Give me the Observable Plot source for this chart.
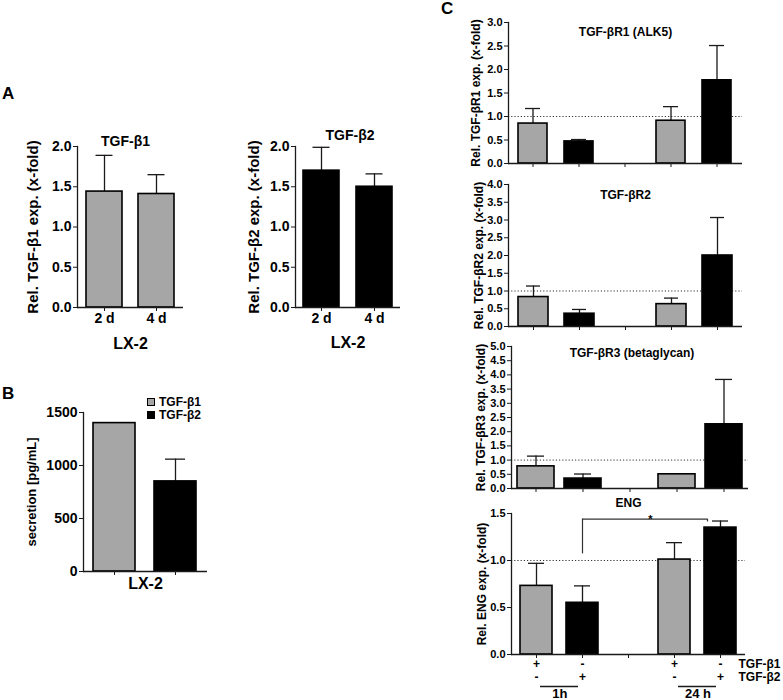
<!DOCTYPE html>
<html><head><meta charset="utf-8">
<script src="https://cdn.jsdelivr.net/npm/d3@7"></script>
<script src="https://cdn.jsdelivr.net/npm/@observablehq/plot@0.6"></script>
<style>
body{margin:0;background:#fff;}
#root{position:relative;width:783px;height:700px;overflow:hidden;background:#fff;font-family:"Liberation Sans",Arial,Helvetica,sans-serif;font-weight:bold;color:#000;}
#root svg{position:absolute;overflow:visible;background:transparent;}
.letter{position:absolute;font-size:17px;line-height:17px;font-weight:bold;}
.leg{position:absolute;font-size:12px;line-height:13px;font-weight:bold;}
.leg .sw{display:inline-block;width:6px;height:6px;border:1px solid #000;margin-right:4px;vertical-align:0px;}
</style></head><body><div id="root"></div>
<script>
// ---------- data ----------
const aDays = ["2 d", "4 d"];
const aTicks = [0, 0.5, 1.0, 1.5, 2.0];
const tgfb1Mean = [1.44, 1.41];
const tgfb1Sem = [0.45, 0.24];
const tgfb2Mean = [1.70, 1.50];
const tgfb2Sem = [0.29, 0.16];

const bLigands = ["TGF-β1", "TGF-β2"];
const bTicks = [0, 500, 1000, 1500];
const secretionMean = [1400, 850];
const secretionSem = [null, 210];

const cCats = ["TGF-β1 1h", "TGF-β2 1h", "gap", "TGF-β1 24h", "TGF-β2 24h"];
const cLigand = ["TGF-β1", "TGF-β2", null, "TGF-β1", "TGF-β2"];
const r1Ticks = [0, 0.5, 1.0, 1.5, 2.0, 2.5, 3.0];
const r1Mean = [0.85, 0.47, null, 0.91, 1.77];
const r1Sem = [0.32, 0.04, null, 0.30, 0.74];
const r2Ticks = [0, 0.5, 1.0, 1.5, 2.0, 2.5, 3.0, 3.5, 4.0];
const r2Mean = [0.83, 0.36, null, 0.63, 2.0];
const r2Sem = [0.31, 0.12, null, 0.17, 1.07];
const r3Ticks = [0, 0.5, 1.0, 1.5, 2.0, 2.5, 3.0, 3.5, 4.0, 4.5, 5.0];
const r3Mean = [0.78, 0.35, null, 0.50, 2.26];
const r3Sem = [0.36, 0.16, null, 0, 1.58];
const engTicks = [0, 0.5, 1.0, 1.5];
const engMean = [0.73, 0.55, null, 1.01, 1.35];
const engSem = [0.24, 0.18, null, 0.18, 0.07];
const engBracket = {from: "TGF-β2 1h", to: "TGF-β2 24h", mid: "gap", low: 1.07, high: 1.44, label: "*"};

const treatRows = ["TGF-β1", "TGF-β2"];
const tgfb1Added = ["+", "-", null, "+", "-"];
const tgfb2Added = ["-", "+", null, "-", "+"];
const timeGroups = [{label: "1h", from: "TGF-β1 1h", to: "TGF-β2 1h"}, {label: "24 h", from: "TGF-β1 24h", to: "TGF-β2 24h"}];

// ---------- drawing ----------
const FONT = '"Liberation Sans", Arial, Helvetica, sans-serif';
const GREY = "#a6a6a6";
const INK = "#1a1a1a";
const root = document.getElementById("root");

function place(svg, left, top) {
  svg.style.left = left + "px";
  svg.style.top = top + "px";
  root.appendChild(svg);
}

function barPanel(c) {
  const data = c.cats.map((k, i) => ({cat: k, mean: c.mean[i], sem: c.sem[i], lig: c.lig[i]})).filter(d => d.mean != null);
  const err = data.filter(d => d.sem != null && d.sem > 0);
  const marks = [];
  if (c.refLine) marks.push(Plot.ruleY([1], {stroke: "#333", strokeWidth: 1, strokeDasharray: "1.2 2"}));
  marks.push(
    Plot.ruleX(err, {x: "cat", y1: "mean", y2: d => d.mean + d.sem, stroke: INK, strokeWidth: 1.3}),
    Plot.tickY(err, {x: "cat", y: d => d.mean + d.sem, stroke: INK, strokeWidth: 1.3, insetLeft: c.capInset, insetRight: c.capInset}),
    Plot.barY(data, {x: "cat", y: "mean", fill: "lig", stroke: "#000", strokeWidth: 1.6}),
    Plot.ruleY([0], {stroke: INK, strokeWidth: 1.3}),
    Plot.frame({anchor: "left", stroke: INK, strokeWidth: 1.3}),
    Plot.axisY(c.ticks, {tickSize: 4, tickPadding: 2, tickFormat: c.fmt, fontSize: c.tickFont, label: null, stroke: INK}),
    Plot.axisX({tickSize: 4, tickPadding: 2, tickFormat: c.xFmt || (() => ""), fontSize: c.xFont || c.tickFont, label: null, stroke: INK}),
    Plot.text([c.yLabel], {frameAnchor: "left", textAnchor: "middle", lineAnchor: "middle", rotate: -90, dx: c.yLabelDx, fontSize: c.yLabelFont}),
  );
  if (c.title) marks.push(Plot.text([c.title], {frameAnchor: "top", lineAnchor: "middle", dx: c.titleDx || 0, dy: c.titleDy, fontSize: c.titleFont}));
  if (c.xLabel) marks.push(Plot.text([c.xLabel], {frameAnchor: "bottom", lineAnchor: "middle", dy: c.xLabelDy, fontSize: c.xLabelFont}));
  if (c.extra) marks.push(...c.extra);
  return Plot.plot({
    width: c.width, height: c.height,
    marginLeft: c.mL, marginRight: c.mR, marginTop: c.mT, marginBottom: c.mB,
    x: {domain: c.cats, paddingInner: c.pi, paddingOuter: c.po, axis: null},
    y: {domain: c.yDomain, axis: null},
    color: {domain: ["TGF-β1", "TGF-β2"], range: [GREY, "#000"]},
    style: {fontFamily: FONT, fontWeight: "bold", color: "#000", background: "transparent", overflow: "visible"},
    marks
  });
}

const f1 = d3.format(".1f");

// Panel A1
place(barPanel({
  cats: aDays, mean: tgfb1Mean, sem: tgfb1Sem, lig: ["TGF-β1", "TGF-β1"],
  width: 200, height: 260, mL: 77, mR: 17, mT: 46, mB: 53, pi: 0.31, po: 0.173,
  yDomain: [0, 2], ticks: aTicks, fmt: f1, tickFont: 14, xFmt: d => d, xFont: 14, capInset: 9.5,
  yLabel: "Rel. TGF-β1 exp. (x-fold)", yLabelDx: -44, yLabelFont: 15,
  title: "TGF-β1", titleDx: -5, titleDy: -5, titleFont: 14,
  xLabel: "LX-2", xLabelDy: 36, xLabelFont: 16
}), 0, 100);

// Panel A2
place(barPanel({
  cats: aDays, mean: tgfb2Mean, sem: tgfb2Sem, lig: ["TGF-β2", "TGF-β2"],
  width: 200, height: 260, mL: 75, mR: 20, mT: 46, mB: 53, pi: 0.32, po: 0.15,
  yDomain: [0, 2], ticks: aTicks, fmt: f1, tickFont: 14, xFmt: d => d, xFont: 14, capInset: 9.5,
  yLabel: "Rel. TGF-β2 exp. (x-fold)", yLabelDx: -41, yLabelFont: 15,
  title: "TGF-β2", titleDx: 2, titleDy: -11, titleFont: 14,
  xLabel: "LX-2", xLabelDy: 35, xLabelFont: 16
}), 220, 100);

// Panel B
place(barPanel({
  cats: bLigands, mean: secretionMean, sem: secretionSem, lig: bLigands,
  width: 230, height: 230, mL: 83, mR: 23, mT: 32, mB: 39, pi: 0.31, po: 0.17,
  yDomain: [0, 1500], ticks: bTicks, fmt: d3.format("d"), tickFont: 14, capInset: 11,
  yLabel: "secretion [pg/mL]", yLabelDx: -52, yLabelFont: 13,
  xLabel: "LX-2", xLabelDy: 12, xLabelFont: 16
}), 0, 380);

// Panel C1
place(barPanel({
  cats: cCats, mean: r1Mean, sem: r1Sem, lig: cLigand, refLine: true,
  width: 360, height: 175, mL: 108, mR: 18, mT: 22, mB: 12, pi: 0.36, po: 0.17,
  yDomain: [0, 3], ticks: r1Ticks, fmt: f1, tickFont: 11, capInset: 7,
  yLabel: "Rel. TGF-βR1 exp. (x-fold)", yLabelDx: -32, yLabelFont: 12,
  title: "TGF-βR1 (ALK5)", titleDy: 10, titleFont: 12
}), 400, 0);

// Panel C2
place(barPanel({
  cats: cCats, mean: r2Mean, sem: r2Sem, lig: cLigand, refLine: true,
  width: 360, height: 168, mL: 108, mR: 18, mT: 14, mB: 12, pi: 0.34, po: 0.17,
  yDomain: [0, 4], ticks: r2Ticks, fmt: f1, tickFont: 11, capInset: 8,
  yLabel: "Rel. TGF-βR2 exp. (x-fold)", yLabelDx: -29, yLabelFont: 12,
  title: "TGF-βR2", titleDy: 11, titleFont: 12
}), 400, 170);

// Panel C3
place(barPanel({
  cats: cCats, mean: r3Mean, sem: r3Sem, lig: cLigand, refLine: true,
  width: 360, height: 170, mL: 111, mR: 12, mT: 16, mB: 12, pi: 0.21, po: 0.12,
  yDomain: [0, 5], ticks: r3Ticks, fmt: f1, tickFont: 11, capInset: 10,
  yLabel: "Rel. TGF-βR3 exp. (x-fold)", yLabelDx: -30, yLabelFont: 12,
  title: "TGF-βR3 (betaglycan)", titleDx: 2, titleDy: 7, titleFont: 12
}), 400, 330);

// Panel C4 (ENG)
place(barPanel({
  cats: cCats, mean: engMean, sem: engSem, lig: cLigand, refLine: true,
  width: 360, height: 167, mL: 111, mR: 15, mT: 18, mB: 8, pi: 0.31, po: 0.16,
  yDomain: [0, 1.5], ticks: engTicks, fmt: f1, tickFont: 11, capInset: 8,
  yLabel: "Rel. ENG exp. (x-fold)", yLabelDx: -29, yLabelFont: 12,
  title: "ENG", titleDy: -10, titleFont: 12,
  extra: [
    Plot.ruleX([engBracket], {x: "from", y1: "low", y2: "high", stroke: "#333", strokeWidth: 1.2}),
    Plot.ruleY([engBracket], {x1: "from", x2: "to", y: "high", insetLeft: 16, insetRight: 29, stroke: "#333", strokeWidth: 1.2}),
    Plot.ruleX([engBracket], {x: "to", y1: "high", y2: d => d.high - 0.03, dx: -13, stroke: "#333", strokeWidth: 1.2}),
    Plot.text([engBracket], {x: "mid", y: "high", text: "label", dx: 22, dy: 0, lineAnchor: "middle", fontSize: 11})
  ]
}), 400, 495);

// Treatment table below C4
const signData = [];
cCats.forEach((k, i) => {
  if (tgfb1Added[i]) signData.push({cat: k, row: "TGF-β1", sign: tgfb1Added[i]});
  if (tgfb2Added[i]) signData.push({cat: k, row: "TGF-β2", sign: tgfb2Added[i]});
});
place(Plot.plot({
  width: 360, height: 45, marginLeft: 111, marginRight: 15, marginTop: 9, marginBottom: 23,
  x: {domain: cCats, paddingInner: 0.31, paddingOuter: 0.16, axis: null},
  y: {type: "point", domain: treatRows, padding: 0, axis: null},
  style: {fontFamily: FONT, fontWeight: "bold", color: "#000", background: "transparent", overflow: "visible"},
  marks: [
    Plot.text(signData, {x: "cat", y: "row", text: "sign", fontSize: 12}),
    Plot.text(treatRows, {y: d => d, text: d => d, frameAnchor: "right", textAnchor: "start", dx: -7, fontSize: 12}),
    Plot.ruleY(timeGroups, {x1: "from", x2: "to", y: () => "TGF-β2", dy: 9, insetLeft: 4, insetRight: 4, stroke: INK, strokeWidth: 1.3}),
    Plot.text(timeGroups, {x: "from", y: () => "TGF-β2", text: "label", dx: 23.4, dy: 16, fontSize: 13})
  ]
}), 400, 655);

// Panel letters
[["A", 2, 85], ["B", 2, 385], ["C", 441, 0]].forEach(([t, l, tp]) => {
  const d = document.createElement("div");
  d.className = "letter"; d.textContent = t;
  d.style.left = l + "px"; d.style.top = tp + "px";
  root.appendChild(d);
});

// Legend for B
const leg = document.createElement("div");
leg.className = "leg";
leg.style.left = "147px"; leg.style.top = "396px";
bLigands.forEach((k, i) => {
  const row = document.createElement("div");
  const sw = document.createElement("span");
  sw.className = "sw"; sw.style.background = i === 0 ? GREY : "#000";
  row.appendChild(sw);
  row.appendChild(document.createTextNode(k));
  leg.appendChild(row);
});
root.appendChild(leg);
</script></body></html>
